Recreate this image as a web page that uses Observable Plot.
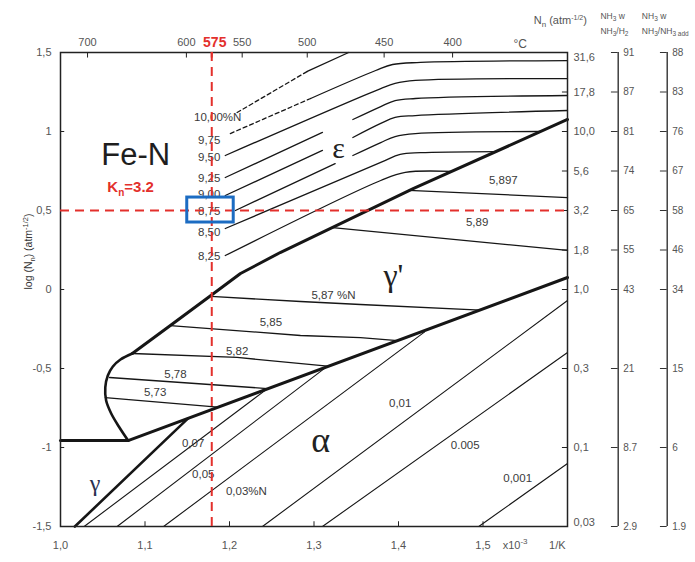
<!DOCTYPE html>
<html><head><meta charset="utf-8">
<script src="https://cdn.jsdelivr.net/npm/d3@7"></script>
<script src="https://cdn.jsdelivr.net/npm/@observablehq/plot@0.6"></script>
<style>
body{margin:0;background:#fff;font-family:"Liberation Sans",Arial,sans-serif;}
#wrap{position:relative;width:695px;height:562px;}
</style></head><body><div id="wrap"></div>
<script>
// ---- axes / tick data ----
const yTicks = [-1.5,-1,-0.5,0,0.5,1,1.5];
const yTickLabels = ["-1,5","-1","-0,5","0","0,5","1","1,5"];
const xTicks = [1.0,1.1,1.2,1.3,1.4,1.5];
const xTickLabels = ["1,0","1,1","1,2","1,3","1,4","1,5"];
const tempTicks = [1.032,1.149,1.179,1.215,1.292,1.383,1.464];
const tempLabels = ["700","600","575","550","500","450","400"];
const knLog = [1.5,1.25,1,0.75,0.5,0.25,0,-0.5,-1,-1.5];
const knLabels = ["31,6","17,8","10,0","5,6","3,2","1,8","1,0","0,3","0,1","0,03"];
const nh3H2Labels = ["91","87","81","74","65","55","43","21","8.7","2.9"];
const nh3AddLabels = ["88","83","76","67","58","46","34","15","6","1.9"];

// ---- red guide (575 °C, Kn = 3.2) ----
const guideX = [1.179];
const guideY = [0.5];

// ---- phase boundaries (thick) ----
const gpUpper = [[1.085,-0.405],[1.130,-0.228],[1.178,-0.038],[1.213,0.101],[1.260,0.234],[1.418,0.640],[1.600,1.076]];
const gpNose = [[1.085,-0.405],[1.071,-0.443],[1.062,-0.487],[1.056,-0.544],[1.053,-0.620],[1.054,-0.703],[1.060,-0.785],[1.069,-0.867],[1.080,-0.956]];
const gpLower = [[1.080,-0.956],[1.600,0.076]];
const gammaEdge = [[1.000,-0.956],[1.080,-0.956]];
const gammaAlpha = [[1.017,-1.5],[1.151,-0.816]];

// ---- epsilon iso-concentration lines (%N) ----
const epsDashed = [
  {c:"10,00", pts:[[1.209,1.120],[1.292,1.380]]},
  {c:"9,75",  pts:[[1.201,0.987],[1.296,1.209]]}
];
const epsSolid = [
  {c:"10,00", pts:[[1.292,1.380],[1.341,1.5]]},
  {c:"9,75", pts:[[1.296,1.209],[1.373,1.386],[1.393,1.424],[1.426,1.437],[1.600,1.449]]},
  {c:"9,50", pts:[[1.195,0.848],[1.379,1.272],[1.396,1.304],[1.420,1.323],[1.600,1.335]]},
  {c:"9,25", pts:[[1.195,0.709],[1.310,0.994],null,[1.346,1.076],[1.379,1.158],[1.396,1.196],[1.420,1.209],[1.600,1.228]]},
  {c:"9,00", pts:[[1.195,0.595],[1.310,0.880],null,[1.346,0.962],[1.379,1.051],[1.396,1.089],[1.420,1.101],[1.600,1.133]]},
  {c:"8,75", pts:[[1.207,0.500],[1.325,0.797],null,[1.346,0.848],[1.379,0.930],[1.396,0.968],[1.420,0.987],[1.568,1.000]]},
  {c:"8,50", pts:[[1.195,0.386],[1.379,0.804],[1.402,0.855],[1.426,0.866],[1.516,0.873]]},
  {c:"8,25", pts:[[1.195,0.215],[1.379,0.690],[1.408,0.741],[1.463,0.747]]}
];
const epsLabels = ["10,00%N","9,75","9,50","9,25","9,00","8,75","8,50","8,25"];
const epsLabelAt = [[1.186,1.089],[1.176,0.943],[1.176,0.835],[1.176,0.703],[1.176,0.601],[1.176,0.494],[1.176,0.361],[1.176,0.209]];

// ---- gamma' iso lines ----
const gpIso = [
  {c:"5,897", pts:[[1.412,0.627],[1.600,0.582]]},
  {c:"5,89",  pts:[[1.322,0.392],[1.600,0.247]]},
  {c:"5,87",  pts:[[1.178,-0.044],[1.284,-0.076],[1.355,-0.095],[1.497,-0.130]]},
  {c:"5,85",  pts:[[1.130,-0.228],[1.284,-0.291],[1.355,-0.304],[1.399,-0.323]]},
  {c:"5,82",  pts:[[1.085,-0.405],[1.209,-0.430],[1.316,-0.485]]},
  {c:"5,78",  pts:[[1.058,-0.557],[1.245,-0.627]]},
  {c:"5,73",  pts:[[1.053,-0.684],[1.186,-0.745]]}
];
const gpLabels = ["5,897","5,89","5,87 %N","5,85","5,82","5,78","5,73"];
const gpLabelAt = [[1.524,0.690],[1.493,0.424],[1.323,-0.038],[1.249,-0.209],[1.209,-0.392],[1.136,-0.538],[1.112,-0.652]];

// ---- alpha iso lines ----
const alphaIso = [
  {c:"0,07",  pts:[[1.028,-1.5],[1.245,-0.627]]},
  {c:"0,05",  pts:[[1.067,-1.5],[1.316,-0.485]]},
  {c:"0,03",  pts:[[1.122,-1.5],[1.431,-0.268]]},
  {c:"0,01",  pts:[[1.239,-1.5],[1.600,-0.070]]},
  {c:"0,005", pts:[[1.310,-1.5],[1.600,-0.399]]},
  {c:"0,001", pts:[[1.495,-1.5],[1.600,-1.101]]}
];
const alphaLabels = ["0,07","0,05","0,03%N","0,01","0.005","0,001"];
const alphaLabelAt = [[1.157,-0.975],[1.169,-1.171],[1.220,-1.278],[1.402,-0.722],[1.479,-0.987],[1.541,-1.196]];

// ---- phase names ----
const phaseNames = ["ε","γ'","α","γ"];
const phaseAt = [[1.329,0.892],[1.394,0.089],[1.308,-0.956],[1.041,-1.228]];
const phaseSize = [30,32,36,24];

// ---- right-hand headers ----
const headers = ["HDR_NN","HDR_W1","HDR_H2","HDR_W2","HDR_ADD"];

// ---- helpers ----
const rows = arr => arr.flatMap(d => d.pts.map(p => ({c:d.c, x:p ? p[0] : NaN, y:p ? p[1] : NaN})));
const pts = arr => arr.map(p => ({x:p[0], y:p[1]}));
const ink = "#161616", txt = "#3a3a3a", red = "#e3302c", blue = "#1c6cc2";
const sans = "Liberation Sans, Arial, sans-serif", serif = "Liberation Serif, Times New Roman, serif";

const ax2 = 1.660, ax3 = 1.718;

const chart = Plot.plot({
  width: 695, height: 562,
  marginLeft: 60, marginRight: 128, marginTop: 52, marginBottom: 36,
  x: {domain: [1.0, 1.6], axis: null},
  y: {domain: [-1.5, 1.5], axis: null},
  style: {fontFamily: sans, fontSize: "11px", color: txt, background: "white", overflow: "visible"},
  marks: [
    // iso lines
    Plot.line(rows(epsDashed), {x:"x", y:"y", z:"c", stroke: ink, strokeWidth: 1.3, strokeDasharray: "4,3"}),
    Plot.line(rows(epsSolid), {x:"x", y:"y", z:"c", stroke: ink, strokeWidth: 1.3, curve: "catmull-rom"}),
    Plot.line(rows(gpIso), {x:"x", y:"y", z:"c", stroke: ink, strokeWidth: 1.3}),
    Plot.line(rows(alphaIso), {x:"x", y:"y", z:"c", stroke: ink, strokeWidth: 1.1}),
    // thick boundaries
    Plot.line(pts(gpUpper), {x:"x", y:"y", stroke: ink, strokeWidth: 3}),
    Plot.line(pts(gpNose), {x:"x", y:"y", stroke: ink, strokeWidth: 2.6, curve: "catmull-rom"}),
    Plot.line(pts(gpLower), {x:"x", y:"y", stroke: ink, strokeWidth: 3}),
    Plot.line(pts(gammaEdge), {x:"x", y:"y", stroke: ink, strokeWidth: 3}),
    Plot.line(pts(gammaAlpha), {x:"x", y:"y", stroke: ink, strokeWidth: 2.6}),
    // iso labels
    Plot.text(epsLabels, {x:(d,i)=>epsLabelAt[i][0], y:(d,i)=>epsLabelAt[i][1], text: d=>d, fill: txt, fontSize: 11.5}),
    Plot.text(gpLabels, {x:(d,i)=>gpLabelAt[i][0], y:(d,i)=>gpLabelAt[i][1], text: d=>d, fill: txt, fontSize: 11.5}),
    Plot.text(alphaLabels, {x:(d,i)=>alphaLabelAt[i][0], y:(d,i)=>alphaLabelAt[i][1], text: d=>d, fill: txt, fontSize: 11.5}),
    // phase names
    ...phaseNames.map((n,i) => Plot.text([n], {x: phaseAt[i][0], y: phaseAt[i][1], text: d=>d, fontFamily: serif, fontSize: phaseSize[i], fill: i===3 ? "#2a3050" : "#222"})),
    Plot.text(["Fe-N"], {x: 1.089, y: 0.848, text: d=>d, fontSize: 31, fill: "#1e1e1e"}),
    Plot.text(["Kn=3.2"], {x: 1.083, y: 0.646, text: d=>d, fontSize: 15, fontWeight: "bold", fill: red}),
    // frame and inward ticks
    Plot.frame({stroke: "#222", strokeWidth: 1.5}),
    Plot.ruleY(yTicks, {x1: 1.0, x2: 1.005, stroke: "#222"}),
    Plot.ruleX(xTicks, {y1: -1.5, y2: -1.47, stroke: "#222"}),
    Plot.ruleX(tempTicks, {filter: (d,i)=>i!==2, y1: 1.5, y2: 1.465, stroke: "#222"}),
    Plot.ruleY(knLog, {x1: 1.594, x2: 1.6, stroke: "#222"}),
    // left axis labels
    Plot.text(yTicks, {y: d=>d, frameAnchor: "left", dx: -9, textAnchor: "end", text: (d,i)=>yTickLabels[i], fill: "#555"}),
    Plot.text(["LOGLABEL"], {frameAnchor: "left", dx: -32, rotate: -90, text: d=>d, fontSize: 10.5, fill: "#333"}),
    // bottom axis labels
    Plot.text(xTicks, {x: d=>d, frameAnchor: "bottom", dy: 22, text: (d,i)=>xTickLabels[i], fill: "#555"}),
    Plot.text(["XUNIT"], {x: 1.538, frameAnchor: "bottom", dy: 22, text: d=>d, fill: "#555"}),
    Plot.text(["1/K"], {x: 1.588, frameAnchor: "bottom", dy: 22, text: d=>d, fill: "#555"}),
    // top axis labels
    Plot.text(tempTicks, {filter: (d,i)=>i!==2, x: d=>d, frameAnchor: "top", dy: -14, text: (d,i)=>tempLabels[i], fill: "#555"}),
    Plot.text(tempTicks, {filter: (d,i)=>i===2, x: d=>d, frameAnchor: "top", dy: -15, dx: 3, text: (d,i)=>tempLabels[i], fill: red, fontWeight: "bold", fontSize: 14}),
    Plot.text(["°C"], {x: 1.544, frameAnchor: "top", dy: -13, text: d=>d, fill: "#555", fontSize: 12}),
    // right-hand headers
    Plot.text(headers, {filter: (d,i)=>i===0, x: 1.560, frameAnchor: "top", dy: -36, textAnchor: "start", text: d=>d, fill: "#555", fontSize: 11}),
    Plot.text(headers, {filter: (d,i)=>i===1, x: 1.639, frameAnchor: "top", dy: -40, textAnchor: "start", text: d=>d, fill: "#555", fontSize: 8.5}),
    Plot.text(headers, {filter: (d,i)=>i===2, x: 1.639, frameAnchor: "top", dy: -25, textAnchor: "start", text: d=>d, fill: "#555", fontSize: 8.5}),
    Plot.text(headers, {filter: (d,i)=>i===3, x: 1.688, frameAnchor: "top", dy: -40, textAnchor: "start", text: d=>d, fill: "#555", fontSize: 8.5}),
    Plot.text(headers, {filter: (d,i)=>i===4, x: 1.688, frameAnchor: "top", dy: -25, textAnchor: "start", text: d=>d, fill: "#555", fontSize: 8.5}),
    // right axis 1 (Kn)
    Plot.text(knLog, {filter: (d,i)=>i>0 && i<knLog.length-1, y: d=>d, frameAnchor: "right", dx: 6, textAnchor: "start", text: (d,i)=>knLabels[i], fill: "#555"}),
    Plot.text(knLog, {filter: (d,i)=>i===0, y: d=>d, frameAnchor: "right", dx: 6, dy: 5, textAnchor: "start", text: (d,i)=>knLabels[i], fill: "#555"}),
    Plot.text(knLog, {filter: (d,i)=>i===knLog.length-1, y: d=>d, frameAnchor: "right", dx: 6, dy: -4, textAnchor: "start", text: (d,i)=>knLabels[i], fill: "#555"}),
    // right axis 2 (NH3 % in NH3/H2)
    Plot.ruleX([ax2], {y1: -1.5, y2: 1.5, stroke: "#333", strokeWidth: 1.4}),
    Plot.ruleY(knLog, {x1: ax2 - 0.008, x2: ax2, stroke: "#333"}),
    Plot.text(knLog, {x: ax2 + 0.006, y: d=>d, textAnchor: "start", text: (d,i)=>nh3H2Labels[i], fill: "#555", fontSize: 10}),
    // right axis 3 (NH3 % of added NH3)
    Plot.ruleX([ax3], {y1: -1.5, y2: 1.5, stroke: "#333", strokeWidth: 1.4}),
    Plot.ruleY(knLog, {x1: ax3 - 0.008, x2: ax3, stroke: "#333"}),
    Plot.text(knLog, {x: ax3 + 0.006, y: d=>d, textAnchor: "start", text: (d,i)=>nh3AddLabels[i], fill: "#555", fontSize: 10}),
    // red guide lines
    Plot.ruleX(guideX, {y1: -1.5, y2: 1.5, stroke: red, strokeWidth: 2, strokeDasharray: "9,6"}),
    Plot.ruleX(guideX, {y1: 1.5, y2: 1.465, stroke: red, strokeWidth: 2}),
    Plot.ruleY(guideY, {x1: 1.0, x2: 1.6, stroke: red, strokeWidth: 2, strokeDasharray: "9,6"}),
    // blue highlight around the 8,75 label
    Plot.rect([0], {x1: 1.150, x2: 1.205, y1: 0.424, y2: 0.582, fill: "none", stroke: blue, strokeWidth: 3})
  ]
});

const dn = (s, f) => `<tspan dy="2.5" font-size="${f}">${s}</tspan>`;
const up = s => `<tspan dy="-2.5">${s}</tspan>`;
const rich = {
  "Kn=3.2": 'K<tspan dy="4" font-size="10">n</tspan><tspan dy="-4">=3.2</tspan>',
  "LOGLABEL": 'log (N<tspan dy="3" font-size="7.5">n</tspan><tspan dy="-3">) (atm</tspan><tspan dy="-4" font-size="7.5">-1/2</tspan><tspan dy="4">)</tspan>',
  "XUNIT": 'x10<tspan dy="-5" font-size="8">-3</tspan>',
  "HDR_NN": 'N<tspan dy="3" font-size="8">n</tspan><tspan dy="-3"> (atm</tspan><tspan dy="-4" font-size="7">-1/2</tspan><tspan dy="4">)</tspan>',
  "HDR_W1": 'NH' + dn("3", 6.5) + up(" w"),
  "HDR_W2": 'NH' + dn("3", 6.5) + up(" w"),
  "HDR_H2": 'NH' + dn("3", 6.5) + up("/H") + dn("2", 6.5),
  "HDR_ADD": 'NH' + dn("3", 6.5) + up("/NH") + dn("3 add", 6.5)
};
d3.select(chart).selectAll("text").each(function() {
  const t = this.textContent;
  if (rich[t]) this.innerHTML = rich[t];
});
document.getElementById("wrap").appendChild(chart);
</script></body></html>
